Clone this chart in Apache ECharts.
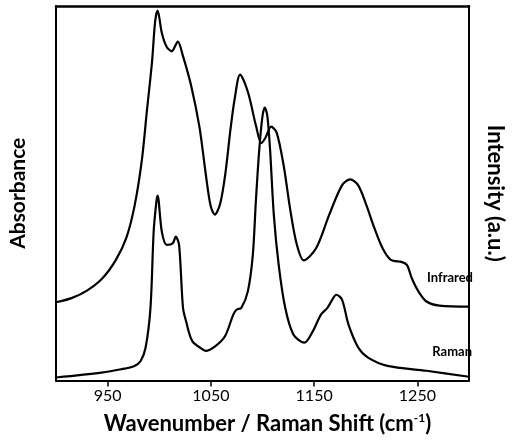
<!DOCTYPE html>
<html>
<head>
<meta charset="utf-8">
<script src="https://cdn.jsdelivr.net/npm/echarts@6/dist/echarts.min.js"></script>
<style>
  html, body { margin: 0; padding: 0; background: #fff; }
  #chart { width: 514px; height: 440px; }
</style>
</head>
<body>
<div id="chart"></div>
<script>
// wavenumber (cm-1), arbitrary units
var infrared = [
  [900, 20.9], [915, 22.0], [930, 24.0], [945, 27.3], [958, 32.2], [968, 38.0],
  [976, 46.5], [983, 58.5], [988, 71.9], [993, 85.1], [996, 95.8], [998.4, 98.8],
  [1002.5, 92.8], [1007, 89.2], [1012, 87.9], [1018, 90.5], [1023, 86.6], [1031, 78.6],
  [1039, 67.6], [1045, 55.2], [1049.7, 46.7], [1053.8, 44.3], [1059, 47.2], [1064, 55.2],
  [1069, 67.1], [1073, 75.1], [1078.3, 81.7], [1086, 76.9], [1093.7, 68.0], [1099, 63.4],
  [1103, 64.9], [1108.3, 67.8], [1113.7, 66.2], [1120.5, 57.4], [1126.7, 45.9], [1133, 36.6],
  [1140, 32.1], [1151.9, 35.3], [1164.4, 44.1], [1177, 52.1], [1184.9, 53.7], [1192.7, 52.1],
  [1200.6, 46.8], [1208.5, 40.6], [1216.3, 35.3], [1224.3, 32.2], [1235.2, 31.6], [1240, 30.8],
  [1244.6, 27.3], [1251, 23.8], [1258.8, 21.1], [1271.4, 20.0], [1300, 19.7]
];
var raman = [
  [900, 0.8], [944, 2.1], [963, 3.0], [976, 3.9], [982, 5.2], [986.8, 8.8],
  [991.5, 19.4], [994.6, 39.8], [997.2, 47.7], [998.4, 49.4], [1002.5, 39.7], [1007.3, 36.2],
  [1013, 36.6], [1016, 38.4], [1019.2, 36.2], [1023, 19.4], [1026, 15.8], [1032, 10.5],
  [1042, 8.3], [1045, 7.9], [1054.4, 9.2], [1063.8, 11.9], [1071.7, 17.6], [1074.8, 18.9],
  [1079.5, 19.4], [1085.8, 23.8], [1090.6, 33.5], [1093.7, 48.5], [1096.9, 61.8], [1100, 70.6],
  [1102.2, 72.9], [1104.7, 70.6], [1107.3, 61.8], [1111, 44.1], [1115.7, 30.8], [1122, 19.4],
  [1129.9, 12.3], [1140.5, 10.1], [1148.8, 13.2], [1156.6, 17.6], [1162.9, 19.4], [1167.6, 21.6],
  [1171.4, 22.9], [1177, 21.6], [1183.3, 14.9], [1192.7, 8.8], [1202.2, 6.1], [1221, 3.9],
  [1258.8, 2.6], [1300, 1.0]
];
var xTicks = [950, 1050, 1150, 1250];

var font = "Lato";
var chart = echarts.init(document.getElementById("chart"));
var option = {
  animation: false,
  grid: { left: 53, right: 37, top: 6, bottom: 57 },
  xAxis: [
    {
      type: "value",
      min: 900,
      max: 1300,
      axisLine: { show: true, onZero: false, lineStyle: { color: "#000", width: 2 } },
      splitLine: { show: false },
      axisTick: { show: true, length: 6, customValues: xTicks, lineStyle: { color: "#000", width: 1.5 } },
      axisLabel: {
        customValues: xTicks, color: "#000", fontFamily: font, fontSize: 16, margin: 7,
        formatter: function (v) { return String(v); }
      },
      name: "{t|Wavenumber / Raman Shift (cm}{s|-1}{t|)}",
      nameLocation: "middle",
      nameGap: 32,
      nameTextStyle: {
        padding: [0, 0, 0, 10],
        rich: {
          t: { fontFamily: font, fontWeight: "bold", fontSize: 22, color: "#000" },
          s: { fontFamily: font, fontWeight: "bold", fontSize: 12, color: "#000", padding: [0, 0, 11, 0] }
        }
      }
    },
    {
      type: "value", min: 900, max: 1300, position: "top",
      axisLine: { show: true, onZero: false, lineStyle: { color: "#000", width: 2.5 } },
      axisTick: { show: false }, axisLabel: { show: false },
      splitLine: { show: false }
    }
  ],
  yAxis: [
    {
      type: "value", min: 0, max: 100,
      axisLine: { show: true, onZero: false, lineStyle: { color: "#000", width: 2 } },
      axisTick: { show: false }, axisLabel: { show: false },
      splitLine: { show: false },
      name: "Absorbance", nameLocation: "middle", nameGap: 27, nameRotate: 90,
      nameTextStyle: { fontFamily: font, fontWeight: "bold", fontSize: 21, color: "#000" }
    },
    {
      type: "value", min: 0, max: 100, position: "right",
      axisLine: { show: true, onZero: false, lineStyle: { color: "#000", width: 2 } },
      axisTick: { show: false }, axisLabel: { show: false },
      splitLine: { show: false },
      name: "Intensity (a.u.)", nameLocation: "middle", nameGap: 15, nameRotate: -90,
      nameTextStyle: { fontFamily: font, fontWeight: "bold", fontSize: 22, color: "#000" }
    }
  ],
  series: [
    {
      name: "Infrared", type: "line", data: infrared, smooth: 0.3,
      xAxisIndex: 0, yAxisIndex: 0,
      showSymbol: false, lineStyle: { color: "#000", width: 2.2 }
    },
    {
      name: "Raman", type: "line", data: raman, smooth: 0.3,
      xAxisIndex: 1, yAxisIndex: 1,
      showSymbol: false, lineStyle: { color: "#000", width: 2.2 }
    }
  ],
  graphic: [
    { type: "text", right: 41, top: 271, style: { text: "Infrared", font: "bold 13px " + font, fill: "#000" } },
    { type: "text", right: 42, top: 345, style: { text: "Raman", font: "bold 13px " + font, fill: "#000" } }
  ]
};
chart.setOption(option);
</script>
</body>
</html>
